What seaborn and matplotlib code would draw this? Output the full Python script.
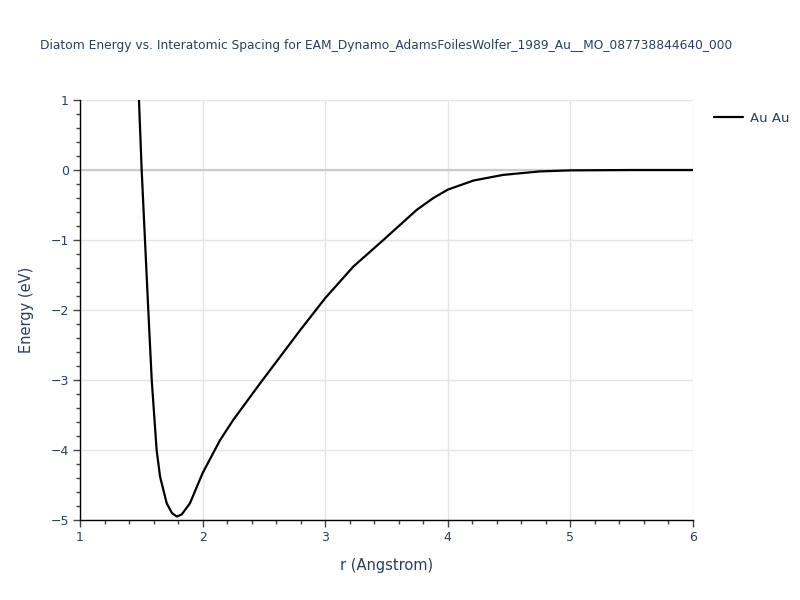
import numpy as np
import pandas as pd
import matplotlib
matplotlib.use("Agg")
import matplotlib.pyplot as plt
from matplotlib.ticker import MultipleLocator
import seaborn as sns

# Diatom energy curve
r_angstrom = [1.481, 1.503, 1.530, 1.557, 1.585, 1.625, 1.653, 1.707, 1.750, 1.789,
              1.830, 1.897, 2.000, 2.142, 2.250, 2.468, 2.795, 3.000, 3.229, 3.474,
              3.746, 3.882, 4.000, 4.210, 4.450, 4.750, 5.000, 5.500, 6.000]
energy_ev = [1.0, 0.0, -1.0, -2.0, -3.0, -4.0, -4.38, -4.76, -4.90, -4.95,
             -4.92, -4.76, -4.33, -3.86, -3.57, -3.05, -2.29, -1.83, -1.38, -1.00,
             -0.57, -0.40, -0.28, -0.15, -0.07, -0.02, -0.005, 0.0, 0.0]
pair_label = "Au Au"
title = "Diatom Energy vs. Interatomic Spacing for EAM_Dynamo_AdamsFoilesWolfer_1989_Au__MO_087738844640_000"

text_col = "#2a3f5f"

sns.set_theme(style="white")
plt.rcParams["font.family"] = ["DejaVu Sans"]

df = pd.DataFrame({"r": r_angstrom, "E": energy_ev, "pair": pair_label})

fig = plt.figure(figsize=(8, 6), dpi=100)
ax = fig.add_axes([0.1, 0.1333, 0.76625, 0.7])

sns.lineplot(data=df, x="r", y="E", hue="pair", palette=["black"], sort=False,
             linewidth=1.6, ax=ax, legend=True)

ax.set_xlim(1, 6)
ax.set_ylim(-5, 1)

ax.xaxis.set_major_locator(MultipleLocator(1))
ax.xaxis.set_minor_locator(MultipleLocator(0.2))
ax.yaxis.set_major_locator(MultipleLocator(1))
ax.yaxis.set_minor_locator(MultipleLocator(0.2))

ax.grid(True, which="major", color="#e5e5e5", linewidth=1.0)
ax.axhline(0, color="#cccccc", linewidth=1.6, zorder=1)

for side in ["top", "right"]:
    ax.spines[side].set_visible(False)
for side in ["left", "bottom"]:
    ax.spines[side].set_color("black")
    ax.spines[side].set_linewidth(1.0)

ax.tick_params(which="major", direction="out", length=5, width=1, color="#444444",
               labelsize=9, labelcolor=text_col, bottom=True, left=True, pad=3)
ax.tick_params(which="minor", direction="out", length=3, width=1, color="#444444",
               bottom=True, left=True)
ax.set_yticklabels([f"{int(v)}".replace("-", "\u2212") for v in ax.get_yticks()])

ax.set_xlabel("r (Angstrom)", fontsize=10.5, color=text_col, labelpad=10)
ax.set_ylabel("Energy (eV)", fontsize=10.5, color=text_col, labelpad=12)

fig.text(0.05, 0.925, title, fontsize=8.8, color=text_col, ha="left", va="center")

leg = ax.legend(loc="upper left", bbox_to_anchor=(1.015, 1.0), frameon=False,
                fontsize=9.5, handlelength=2.2, handletextpad=0.5)
for t in leg.get_texts():
    t.set_color(text_col)

fig.savefig("out.png", dpi=100)
